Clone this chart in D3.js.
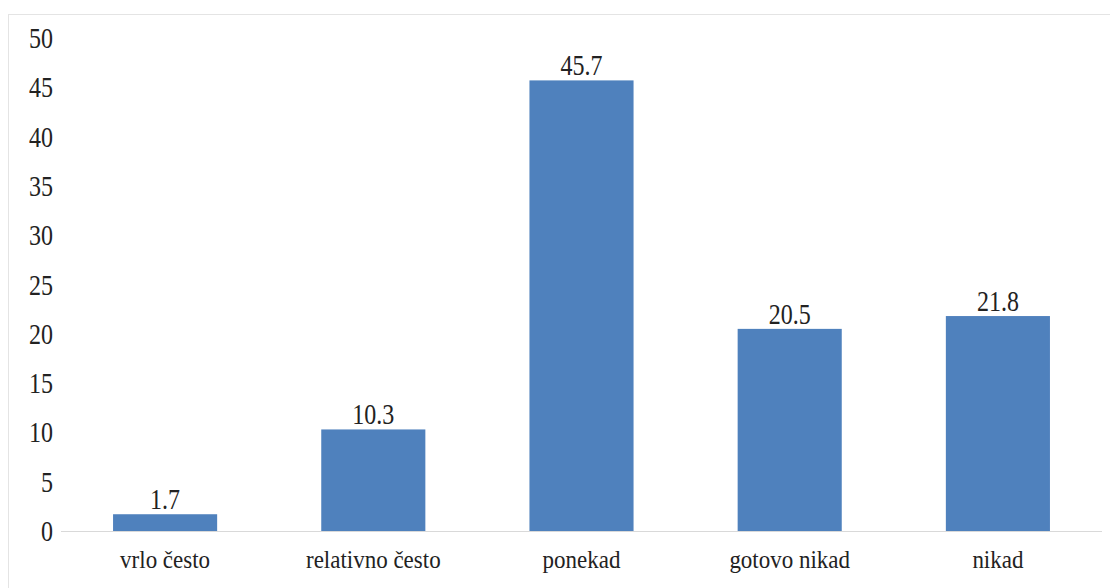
<!DOCTYPE html>
<html>
<head>
<meta charset="utf-8">
<script src="https://cdn.jsdelivr.net/npm/d3@7"></script>
<style>
  body { margin: 0; background: #fff; }
</style>
</head>
<body>
<div id="chartContainer"></div>
<script>
// chart data
var categories = ["vrlo često", "relativno često", "ponekad", "gotovo nikad", "nikad"];
var values = [1.7, 10.3, 45.7, 20.5, 21.8];
var yTicks = [0, 5, 10, 15, 20, 25, 30, 35, 40, 45, 50];

function init() {
    var w = 1110, h = 588;
    var left = 61, right = 1102, top = 38, bottom = 531;
    var font = "Liberation Serif";

    var svg = d3.select("#chartContainer")
                .append("svg")
                .attr("width", w)
                .attr("height", h);

    // light frame round the chart area
    svg.append("rect")
       .attr("x", 8.5).attr("y", 14.5)
       .attr("width", 1120).attr("height", 600)
       .attr("fill", "none")
       .attr("stroke", "#e4e4e4");

    var x = d3.scaleBand()
              .domain(categories)
              .range([left, right])
              .paddingInner(0.5)
              .paddingOuter(0.25);

    var y = d3.scaleLinear()
              .domain([0, 50])
              .range([bottom, top]);

    var sy = 1.25; // numbers look stretched vertically in the source

    // y tick labels
    svg.selectAll(".ytick")
       .data(yTicks)
       .enter()
       .append("text")
       .attr("class", "ytick")
       .attr("transform", d => "translate(53," + (y(d) + 10) + ") scale(1," + sy + ")")
       .attr("text-anchor", "end")
       .attr("font-family", font)
       .attr("font-size", 24)
       .attr("fill", "#222")
       .text(d => d);

    // bars
    svg.selectAll("rect.bar")
       .data(values)
       .enter()
       .append("rect")
       .attr("class", "bar")
       .attr("x", (d, i) => x(categories[i]))
       .attr("y", d => y(d))
       .attr("width", x.bandwidth())
       .attr("height", d => bottom - y(d))
       .attr("fill", "#4f81bd");

    // baseline
    svg.append("line")
       .attr("x1", left).attr("x2", right)
       .attr("y1", bottom + 0.5).attr("y2", bottom + 0.5)
       .attr("stroke", "#d9d9d9")
       .attr("stroke-width", 1);

    // value labels
    svg.selectAll(".vlabel")
       .data(values)
       .enter()
       .append("text")
       .attr("class", "vlabel")
       .attr("transform", (d, i) => "translate(" + (x(categories[i]) + x.bandwidth() / 2) + "," + (y(d) - 5) + ") scale(1," + sy + ")")
       .attr("text-anchor", "middle")
       .attr("font-family", font)
       .attr("font-size", 24)
       .attr("fill", "#222")
       .text(d => d.toFixed(1));

    // category labels
    svg.selectAll(".xlabel")
       .data(categories)
       .enter()
       .append("text")
       .attr("class", "xlabel")
       .attr("transform", d => "translate(" + (x(d) + x.bandwidth() / 2) + ",568) scale(1,1.1)")
       .attr("text-anchor", "middle")
       .attr("font-family", font)
       .attr("font-size", 23)
       .attr("fill", "#222")
       .text(d => d);
}

window.onload = init;
</script>
</body>
</html>
